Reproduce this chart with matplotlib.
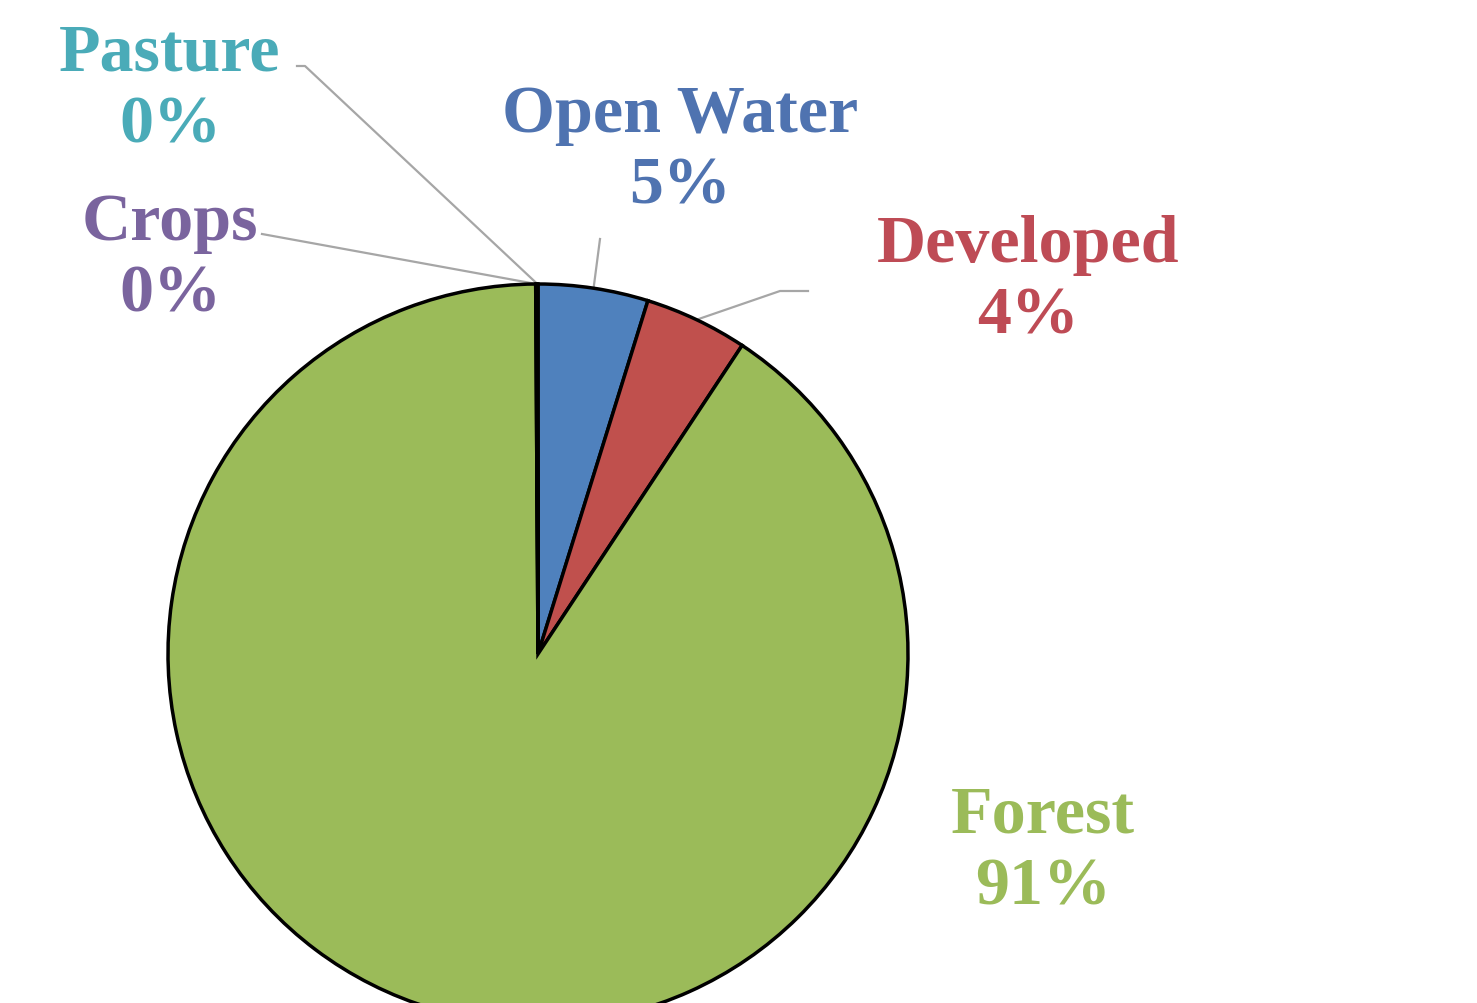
import matplotlib.pyplot as plt
import numpy as np

# land cover shares (percent), clockwise from 12 o'clock
categories = ['Open Water', 'Developed', 'Forest', 'Crops', 'Pasture']
values = [4.8, 4.5, 90.6, 0.05, 0.05]
colors = ['#4F81BD', '#C0504D', '#9BBB59', '#8064A2', '#4BACC6']
text_colors = ['#4F73B0', '#BE4B55', '#9BBB59', '#7A649E', '#4AABB8']

W, H = 1477, 1004
fig = plt.figure(figsize=(W / 100, H / 100), dpi=100)
ax = fig.add_axes([0, 0, 1, 1])

cx, cy, r = 538, H - 655, 370
wedges, _ = ax.pie(values, colors=colors, startangle=90, counterclock=False,
                   center=(cx, cy), radius=r, frame=True,
                   wedgeprops=dict(edgecolor='black', linewidth=2.5))
ax.set_xlim(0, W)
ax.set_ylim(0, H)
ax.set_aspect('equal')
ax.axis('off')

# label positions (pixel coords, top-down) and leader line elbows
label_pos = {
    'Open Water': (680, 151),
    'Developed': (1028, 281),
    'Forest': (1043, 852),
    'Crops': (170, 259),
    'Pasture': (170, 90),
}
elbows = {
    'Open Water': [(600, 240)],
    'Developed': [(808, 292), (780, 292)],
    'Crops': [(262, 235)],
    'Pasture': [(297, 67), (305, 67)],
}

for w, name, tc in zip(wedges, categories, text_colors):
    v = values[categories.index(name)]
    lx, ly = label_pos[name]
    ax.text(lx, H - ly, f'{name}\n{round(v):.0f}%', ha='center', va='center',
            fontsize=49, fontweight='bold', family='Liberation Serif',
            color=tc, linespacing=1.22)
    if name in elbows:
        ang = np.deg2rad((w.theta1 + w.theta2) / 2)
        ex, ey = cx + r * np.cos(ang), cy + r * np.sin(ang)
        pts = [(x, H - y) for x, y in elbows[name]] + [(ex, ey)]
        xs, ys = zip(*pts)
        ax.plot(xs, ys, color='#A6A6A6', lw=1.6, zorder=0)

fig.savefig('out.png', dpi=100, facecolor='white')
